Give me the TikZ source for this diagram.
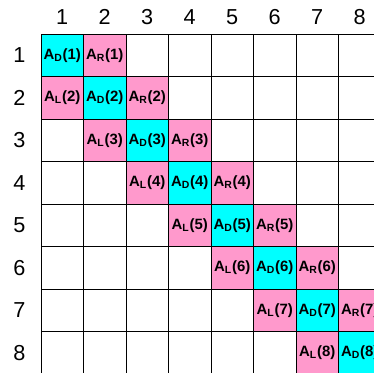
\documentclass[tikz,border=0pt]{standalone}
\usepackage{fontspec}
\setmainfont{Liberation Sans}
\usepackage{xcolor}

\definecolor{rosa}{RGB}{255,153,204}
\definecolor{celeste}{RGB}{0,255,255}
\newcommand{\elem}[2]{A\textsubscript{#1}(#2)}

\begin{document}
\begin{tikzpicture} %Matriz tridiagonal
  [
    % Estilos de las celdas y de los indices
    celda/.style={draw=black, line width=0.5pt, minimum size=1cm, inner sep=0pt, font=\bfseries},
    diag/.style={celda, fill=celeste},
    lado/.style={celda, fill=rosa},
    indice/.style={font=\fontsize{14.5}{16}\selectfont}
  ]
  \useasboundingbox (-0.965,0.8) rectangle (7.835,-7.976);
  \clip (-0.965,0.8) rectangle (7.835,-7.976);
  \draw[line width=0.5pt] (0,0) grid (8,-8);
  \foreach \i in {1,...,8} {
    \node[indice] (c\i) at (\i-0.5, 0.39) {\i};
    \node[indice] (f\i) at (-0.51, 0.5-\i) {\i};
  }
  \node[diag] (d1) at (0.5,-0.5) {\elem{D}{1}};
  \node[lado] (r1) at (1.5,-0.5) {\elem{R}{1}};
  \node[lado] (l2) at (0.5,-1.5) {\elem{L}{2}};
  \node[diag] (d2) at (1.5,-1.5) {\elem{D}{2}};
  \node[lado] (r2) at (2.5,-1.5) {\elem{R}{2}};
  \node[lado] (l3) at (1.5,-2.5) {\elem{L}{3}};
  \node[diag] (d3) at (2.5,-2.5) {\elem{D}{3}};
  \node[lado] (r3) at (3.5,-2.5) {\elem{R}{3}};
  \node[lado] (l4) at (2.5,-3.5) {\elem{L}{4}};
  \node[diag] (d4) at (3.5,-3.5) {\elem{D}{4}};
  \node[lado] (r4) at (4.5,-3.5) {\elem{R}{4}};
  \node[lado] (l5) at (3.5,-4.5) {\elem{L}{5}};
  \node[diag] (d5) at (4.5,-4.5) {\elem{D}{5}};
  \node[lado] (r5) at (5.5,-4.5) {\elem{R}{5}};
  \node[lado] (l6) at (4.5,-5.5) {\elem{L}{6}};
  \node[diag] (d6) at (5.5,-5.5) {\elem{D}{6}};
  \node[lado] (r6) at (6.5,-5.5) {\elem{R}{6}};
  \node[lado] (l7) at (5.5,-6.5) {\elem{L}{7}};
  \node[diag] (d7) at (6.5,-6.5) {\elem{D}{7}};
  \node[lado] (r7) at (7.5,-6.5) {\elem{R}{7}};
  \node[lado] (l8) at (6.5,-7.5) {\elem{L}{8}};
  \node[diag] (d8) at (7.5,-7.5) {\elem{D}{8}};
\end{tikzpicture}
\end{document}
